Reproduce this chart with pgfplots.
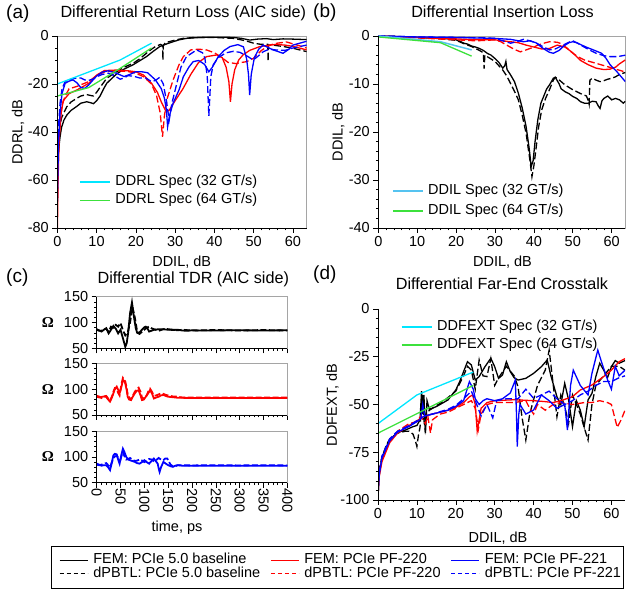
\documentclass[border=0pt]{standalone}
\usepackage{fontspec}
\setmainfont{Liberation Sans}
\newfontfamily\serifbf{Liberation Serif}
\usepackage{graphicx}
\usepackage{pgfplots}
\pgfplotsset{compat=1.18}
\definecolor{cspec}{RGB}{0,230,255}
\definecolor{gspec}{RGB}{60,225,60}
\definecolor{cspecb}{RGB}{85,195,240}
\definecolor{myred}{RGB}{255,0,0}
\definecolor{myblue}{RGB}{0,0,255}
\definecolor{frame}{RGB}{165,165,165}
\newcommand{\tf}{\fontsize{14.5}{16}\selectfont}
\newcommand{\ttl}{\fontsize{16.2}{18}\selectfont}
\newcommand{\pl}{\fontsize{19}{21}\selectfont}
\pgfplotsset{
  common/.style={
    scale only axis, anchor=south west,
    /pgf/number format/assume math mode=true,
    tick label style={font=\tf},
    tick align=outside,
    xtick pos=bottom, ytick pos=left,
    major tick length=5pt, minor tick length=2.5pt,
    every tick/.style={black, line width=0.6pt},
    axis line style={frame, line width=0.9pt},
    after end axis/.code={\draw[black,line width=0.9pt] (rel axis cs:0,1) -- (rel axis cs:0,0) -- (rel axis cs:1,0);},
    legend cell align=left,
    legend style={draw=none, fill=none, inner sep=0pt, font=\tf,
      nodes={inner sep=1pt, text height=11pt, text depth=3.5pt}},
    legend image code/.code={\draw[##1] (0pt,0pt) -- (30pt,0pt);},
  },
  fem/.style={line width=1.3pt, solid},
  pbtl/.style={line width=1.3pt, dash pattern=on 7pt off 3pt},
  tdrf/.style={line width=1.8pt, solid},
  tdrp/.style={line width=1.8pt, dash pattern=on 6pt off 2.5pt},
  tdr/.style={common, width=190.6pt, height=51.5pt, xmin=0, xmax=400, ymin=50, ymax=150,
    xtick={0,50,...,400}, ytick={50,100,150}, minor x tick num=4, minor y tick num=4,
    xticklabels={},
    ylabel={\serifbf\bfseries\fontsize{15}{17}\selectfont Ω},
    ylabel style={at={(axis description cs:-0.256,0.5)}, anchor=center, rotate=-90},
  },
}
\begin{document}
\begin{tikzpicture}
\path[use as bounding box] (0pt,0pt) rectangle (626pt,591pt);

% ---------------- (a) ----------------
\begin{axis}[common, at={(57.3pt,363pt)}, width=249.3pt, height=192pt,
  xmin=0, xmax=63.5, ymin=-80, ymax=0,
  xtick={0,10,...,60}, ytick={-80,-60,...,0}, minor x tick num=4, minor y tick num=3,
  legend style={at={(axis description cs:0.087,0.284)}, anchor=north west, row sep=1.8pt, column sep=4pt}]
\addplot[fem, black, forget plot] coordinates {(0,-56) (0.3,-48) (0.7,-42) (1.1,-38) (1.7,-35) (2.4,-33) (3.5,-31) (4.9,-29.4) (6,-28) (7.5,-27.4) (8.5,-27.8) (9.2,-28.2) (10,-27) (10.9,-25) (11.8,-22) (12.6,-19.7) (14,-17.5) (15.1,-15.8) (17,-13.8) (19.3,-12) (21,-10.3) (22.7,-8.6) (24.5,-6.3) (26.1,-4.4) (28,-3.2) (29.5,-2.4) (31,-1.6) (32.9,-1) (36.3,-0.6) (40,-0.5) (44.8,-0.6) (47,-1) (49,-1.7) (51,-1.3) (53.3,-1.1) (55,-1.5) (57.5,-1.2) (60,-1.3) (63.5,-1.5)};
\addplot[pbtl, black, forget plot] coordinates {(0,-48) (0.4,-40) (1.1,-34) (2.4,-29.5) (3.5,-27.5) (4.9,-26) (6,-25) (7.5,-24.4) (8.5,-24.8) (9.2,-25) (10,-23.5) (10.9,-21.4) (12.6,-17.6) (15.1,-14.9) (17,-13) (19.3,-11.4) (21,-9.5) (22.7,-7.2) (24,-5.5) (25,-4.4) (26.3,-3.5) (26.8,-4) (26.9,-10) (27.0,-4) (27.5,-2.8) (30,-1.7) (32,-1) (35,-0.6) (40,-0.6) (45,-1) (48,-2) (50,-3) (52,-3.5) (53.6,-3.5) (53.7,-10.6) (53.8,-3.8) (55,-3.8) (58,-4.5) (60,-5.1) (63.5,-6.5)};
\addplot[fem, myred, forget plot] coordinates {(0,-85) (0.2,-60) (0.5,-42) (1,-32) (1.5,-27) (3,-24) (5,-22.5) (8,-19.7) (10,-16.3) (12,-14.4) (15,-14.2) (18,-14.5) (20,-14.9) (22,-16.3) (24,-19.7) (25.5,-23.5) (26.5,-27.5) (27.7,-31.5) (28.5,-31) (30,-27) (32,-22) (34,-16) (36,-11) (38,-8.6) (40.6,-7.9) (42,-9) (43,-13) (43.7,-19) (44.1,-27.4) (44.5,-20) (45.2,-14) (46.2,-10) (47.3,-7.9) (49,-6) (51.6,-4.4) (55.6,-3.5) (58,-3.8) (60,-4.3) (63.5,-5.8)};
\addplot[pbtl, myred, forget plot] coordinates {(0,-70) (0.3,-48) (0.7,-36) (1.2,-29) (2,-25) (3,-22) (5,-21) (8,-19) (10,-16.5) (12,-15) (15,-14.5) (18,-14.8) (20,-15.5) (22,-17) (24,-20) (25.3,-25) (26.2,-32) (26.8,-42) (27.3,-33) (28,-26) (29.5,-18.3) (31,-12) (32.1,-8.6) (34,-5.8) (36,-5.5) (38,-5.8) (40,-7) (41.5,-8.5) (43.5,-11) (45.5,-11.5) (47,-11) (48.2,-10.7) (50,-9.3) (52,-6) (54.1,-3.8) (56,-3) (58.4,-2.5) (60.5,-3.5) (63.5,-5)};
\addplot[fem, myblue, forget plot] coordinates {(0,-70) (0.3,-45) (0.7,-32) (1.2,-24) (2,-19.7) (3,-18.8) (4,-18.3) (5,-19.5) (6,-21.5) (7,-21.8) (8,-20.4) (9,-18.5) (10,-16.7) (11.5,-15) (13,-14.5) (15,-15.5) (17,-16.9) (18.5,-16) (20,-14.9) (21.5,-14.9) (23,-15.3) (25,-18.3) (26.5,-22) (27.3,-26) (27.8,-31) (28.1,-37.8) (28.6,-33) (29.5,-28) (31,-22.5) (32.1,-17) (33.5,-13) (34.6,-10.7) (36,-10.2) (37.5,-11.8) (38.6,-14.9) (39.5,-13) (41,-8.6) (42.5,-6) (44,-4.4) (46,-3.6) (47.4,-4.5) (48.2,-9.3) (48.7,-16) (49,-24.6) (49.4,-16) (50.2,-9) (51.3,-5.5) (52.4,-3.8) (55,-5.8) (57.5,-7.2) (59,-5.5) (60,-3.8) (63.5,-2.2)};
\addplot[pbtl, myblue, forget plot] coordinates {(0,-50) (0.3,-38) (0.7,-28) (1.2,-22) (2,-19) (3.5,-18) (5,-17.5) (6,-17.5) (7,-18.3) (8,-18.5) (9,-18) (10,-17) (11.5,-16) (13,-15.5) (14.5,-16.5) (16,-18) (17,-17.5) (18,-16.5) (19.5,-16.8) (21,-17.5) (22.5,-17.5) (24,-19) (25,-18.5) (26.1,-17.2) (27,-20) (27.8,-27) (28.5,-35) (29.2,-28) (30.4,-20) (31.5,-13) (32.9,-8.6) (35.5,-5.8) (37,-7) (37.6,-9.3) (38.2,-17) (38.6,-33.3) (39.1,-17) (39.7,-12) (41,-9) (43,-7) (44.8,-6.4) (46.5,-6.8) (48.5,-8.5) (49.9,-10) (51,-8.6) (52.5,-6.5) (54,-5.5) (55.6,-5.8) (58,-6) (60,-5) (63.5,-3.8)};
\addplot[cspec, line width=1.3pt] coordinates {(0,-20) (16,-10) (24,-3)};
\addlegendentry{DDRL Spec (32 GT/s)}
\addplot[gspec, line width=1.3pt] coordinates {(0,-25) (8,-21.5) (16,-13.5) (24,-5)};
\addlegendentry{DDRL Spec (64 GT/s)}
\end{axis}

% ---------------- (b) ----------------
\begin{axis}[common, at={(378.3pt,363pt)}, width=247pt, height=192pt,
  xmin=0, xmax=63.5, ymin=-40, ymax=0,
  xtick={0,10,...,60}, ytick={-40,-30,...,0}, minor x tick num=4, minor y tick num=4,
  legend style={at={(axis description cs:0.057,0.236)}, anchor=north west, row sep=3.5pt, column sep=3pt}]
\addplot[fem, black, forget plot] coordinates {(0,0) (5,-0.1) (10,-0.3) (15,-0.5) (18,-0.6) (20,-0.8) (21,-1.1) (22,-1.5) (23,-1.7) (24,-2.1) (25,-2.3) (26,-2.6) (27,-3) (28,-3.6) (29,-4) (30,-4.7) (31,-5.5) (32,-6.7) (32.5,-6.2) (32.8,-5.3) (33.1,-7) (34,-8.1) (35,-9.5) (36,-11.9) (37,-15) (38,-18.9) (38.8,-23.5) (39.3,-27.2) (39.8,-26) (40.3,-22) (41,-17.5) (41.8,-14) (42.5,-12.6) (43.3,-11) (44,-10.2) (45,-8.8) (45.5,-8.6) (46.5,-10) (47,-11) (48,-11.6) (49,-12) (50,-12.6) (51,-13) (52,-13.7) (53,-14) (54,-14) (55,-13.6) (56,-13.7) (56.5,-14.5) (57,-15.1) (57.5,-13.5) (58,-13) (59,-12.5) (60,-13.3) (61,-13) (62,-13.3) (63,-14) (63.5,-13.6)};
\addplot[pbtl, black, forget plot] coordinates {(0,0) (10,-0.3) (15,-0.5) (20,-0.9) (22,-1.6) (24,-2.2) (25,-2.6) (26,-3) (27,-3.5) (27.2,-6.8) (27.4,-4) (28,-4.3) (30,-5.3) (32,-7.1) (33,-8.3) (34,-9.9) (35,-11.5) (36,-13.3) (37,-16.5) (38,-20.3) (39,-26) (39.5,-29.3) (40,-27) (40.5,-23.8) (41.2,-19) (42,-15.4) (43,-13) (44,-11.2) (45,-9.2) (45.5,-8.6) (46,-8.8) (47,-9.5) (48,-10.2) (50,-11.2) (52,-12) (53.5,-12.5) (54,-13.5) (54.2,-14.2) (54.4,-9.2) (55,-8.8) (56,-9.2) (57,-9.5) (58,-9.3) (59,-9) (60,-8.8) (61,-8.5) (62,-8) (63.5,-7.6)};
\addplot[fem, myred, forget plot] coordinates {(0,0) (10,-0.3) (20,-0.6) (25,-0.8) (30,-0.8) (33,-1.1) (36,-1.4) (38,-1.9) (40,-2.3) (42,-2.7) (44,-2.6) (46,-1.9) (48,-2.3) (50,-3.5) (52,-5.1) (54,-6) (56,-6.7) (58,-7) (59.6,-6.9) (61,-6.5) (62,-5.8) (63.5,-5)};
\addplot[pbtl, myred, forget plot] coordinates {(0,0) (10,-0.4) (20,-0.8) (25,-1) (28,-0.9) (30,-0.8) (31.5,-1.2) (33,-1.9) (35,-2.8) (36.5,-3.3) (38,-2.9) (40,-2.3) (41,-1.9) (43,-1.4) (44,-1.2) (46,-1.3) (47,-1.6) (48.5,-2.5) (50,-3.6) (51.5,-4.4) (53,-5) (56,-5.7) (59,-6.4) (61,-6.9) (63.5,-7.5)};
\addplot[fem, myblue, forget plot] coordinates {(0,0) (10,-0.2) (20,-0.3) (25,-0.4) (30,-0.5) (34,-0.7) (36,-1) (37.3,-1.2) (39,-1) (40.5,-1.4) (42.4,-2.6) (44,-3.4) (45,-3.6) (46.5,-3) (47.5,-2.2) (49,-1.4) (50,-1.2) (51,-1.4) (52.3,-1.9) (54,-2.5) (55.3,-2.9) (57.4,-3.6) (58.5,-4.6) (59.6,-6) (61.3,-7.4) (63.5,-9.5)};
\addplot[pbtl, myblue, forget plot] coordinates {(0,0) (10,-0.2) (20,-0.3) (28,-0.4) (30,-0.5) (32,-1) (34,-1.5) (35.5,-1.2) (37.3,-0.7) (39,-1) (40.7,-1.5) (42.5,-2.3) (44,-2.9) (45.5,-2.7) (47.5,-1.9) (49,-1.3) (50,-1) (51,-1.4) (52.7,-2.2) (54.5,-3) (56,-3.6) (58,-4.1) (59.6,-4.3) (61.5,-4.3) (63.5,-4)};
\addplot[cspecb, line width=1.5pt] coordinates {(0,0) (16,-1.2) (24,-2.9)};
\addlegendentry{DDIL Spec (32 GT/s)}
\addplot[gspec, line width=1.3pt] coordinates {(0,-0.2) (16,-1.4) (24,-4.2)};
\addlegendentry{DDIL Spec (64 GT/s)}
\end{axis}

% ---------------- (c) ----------------
\begin{axis}[tdr, at={(96.7pt,242.7pt)}]
\addplot[tdrf, black] coordinates {(0,87) (5,85) (10,82.5) (15,86) (20,89) (25,79) (30,86) (35,93.5) (40,88) (45,79) (50,86) (55,69.5) (60,53) (63,60) (66,80) (70,118) (74,139) (78,112) (82,89) (85,80) (88,79) (92,83) (95,86) (100,91) (103,92) (107,88) (110,82.5) (115,84) (120,86) (130,87) (140,87) (150,86) (160,85.7) (170,86) (180,84.5) (190,84) (200,85) (220,84.5) (250,84.5) (280,85) (300,85) (350,84.5) (400,85)};
\addplot[tdrp, black] coordinates {(0,86) (5,84) (10,84) (15,87) (20,88) (25,82) (30,92) (35,90) (40,95.5) (45,92) (50,99) (55,85) (60,75) (65,80) (70,100) (75,130) (80,110) (85,82) (90,78) (95,82) (100,86) (105,90) (110,92) (115,89) (120,87) (130,84) (140,87) (145,88) (150,87) (160,86) (170,85) (180,86) (200,84.5) (250,85.5) (300,84.5) (350,85.5) (400,84.5)};
\end{axis}
\begin{axis}[tdr, at={(96.7pt,176pt)}]
\addplot[tdrf, myred] coordinates {(0,85.5) (5,84) (10,85) (15,86) (20,85) (24,80) (28,76) (32,84) (35,92) (38,100) (42,105) (45,99) (48,92) (52,105) (55,118) (58,116) (60,111) (63,98) (65,85.5) (68,80) (72,79) (76,86) (80,92) (84,97) (88,98) (92,88) (95,79) (99,80) (103,85.5) (108,92) (112,98) (116,92) (120,82) (125,84) (130,85.5) (135,88) (140,89) (145,87) (150,85.5) (160,84.5) (170,83.5) (200,83) (250,83) (300,83) (350,83) (400,83)};
\addplot[tdrp, myred] coordinates {(0,87) (5,86) (10,83) (15,86) (20,87) (24,82) (28,78) (32,86) (35,95) (38,102) (42,100) (45,93) (48,88) (52,110) (55,122) (58,118) (60,115) (63,102) (65,90) (68,84) (72,80) (76,88) (80,95) (84,100) (88,103) (92,95) (95,84) (99,82) (103,84) (108,95) (112,101) (116,95) (120,88) (125,88) (130,90) (135,92) (140,91) (145,89) (150,88) (160,86) (165,86) (180,84) (200,84) (250,84) (300,84) (350,84) (400,84)};
\end{axis}
\begin{axis}[tdr, at={(96.7pt,108.3pt)},
  extra description/.code={
    \foreach \v in {0,50,100,150,200,250,300,350,400} {
      \node[rotate=-90, anchor=west, inner sep=0pt, font=\tf] at (axis cs:\v,50) [xshift=0pt] {};
    }
  }]
\addplot[tdrf, myblue] coordinates {(0,87) (5,85) (10,83) (15,84) (20,84) (24,80) (28,74.4) (32,90) (35,103) (38,106) (42,105) (45,95) (48,87) (52,105) (55,116) (58,110) (62,100) (66,95) (70,93.6) (75,92) (80,90.4) (85,88) (90,87) (95,90) (100,93.6) (105,90) (110,87) (115,92) (120,96.8) (124,92) (128,87) (130,78) (132,71) (135,80) (140,90.4) (145,87) (150,84) (155,82) (160,80.8) (165,83) (170,84) (180,83) (200,83) (250,83) (300,83) (350,83) (400,83)};
\addplot[tdrp, myblue] coordinates {(0,85) (5,84) (10,85) (15,87) (20,88) (24,84) (28,80) (32,90) (35,98) (38,101) (42,102) (46,98) (50,95) (53,105) (55,110) (58,102) (62,95) (66,96) (70,98) (75,95) (80,92) (85,93) (90,95) (95,93) (100,90) (105,93) (110,96) (115,95) (120,92) (125,94) (130,98) (135,95) (140,94) (144,97) (148,97) (152,90) (155,85) (160,82) (165,82) (170,84) (180,84) (200,83.5) (250,84) (300,83.5) (350,84) (400,83.5)};
\end{axis}
% rotated tick labels of the lowest TDR axis (text only)
\foreach \v/\xx in {0/96.7,50/120.5,100/144.35,150/168.2,200/192.0,250/215.85,300/239.7,350/263.5,400/287.3} {
  \node[rotate=-90, anchor=west, inner sep=0pt, font=\tf] at (\xx pt,102.5pt) {\v};
}

% ---------------- (d) ----------------
\begin{axis}[common, at={(378pt,91pt)}, width=247pt, height=191pt,
  axis line style={draw=none},
  xmin=0, xmax=63.5, ymin=-100, ymax=0,
  xtick={0,10,...,60}, ytick={-100,-75,...,0}, minor x tick num=4, minor y tick num=4,
  legend style={at={(axis description cs:0.092,0.95)}, anchor=north west, row sep=1.5pt, column sep=4pt}]
\addplot[fem, black, forget plot] coordinates {(0,-100) (0.15,-92) (0.4,-85) (1,-79) (2,-73) (3,-68.6) (4,-66.5) (5,-65) (6,-64) (7,-63.4) (8,-62.5) (9,-61.6) (10,-61) (10.8,-58) (11.2,-43) (11.5,-55) (11.8,-45) (12.2,-65) (12.6,-48) (13.2,-52.5) (15,-51.1) (18,-47.6) (20,-42.4) (21,-38) (22,-32.8) (23,-27.6) (24,-29.3) (25,-37.2) (26,-35.4) (27.5,-30.2) (29,-25.8) (30,-30.2) (31,-36.3) (32,-34.6) (33,-27.6) (34,-32.8) (35,-36) (36,-37.2) (38,-36.3) (40,-33.7) (42,-30.2) (43.5,-26.7) (44.5,-35.4) (46,-45.9) (47,-50) (48,-38.9) (49,-47.6) (50,-61.6) (51,-48) (52,-52.9) (53,-61.6) (54,-47.6) (55,-44.2) (56,-35.4) (57,-28.4) (58,-31.9) (59,-36) (60,-30.2) (61,-27) (62,-28.4) (63.5,-27)};
\addplot[pbtl, black, forget plot] coordinates {(0,-96) (0.2,-88) (0.5,-82) (1,-78) (2,-72) (3,-68) (5,-65) (7,-64) (8,-64) (9,-65.5) (9.6,-69) (10,-72) (10.4,-66) (10.8,-62) (11.4,-45) (11.8,-58) (12.1,-63) (12.5,-55) (13.2,-53) (14,-52) (17,-48) (20,-43) (22,-35) (23,-30) (24,-32) (25,-42) (26,-26.7) (27,-35) (28,-35.4) (29,-26) (30,-40) (31,-36) (33,-30) (35,-35) (36,-40.7) (37,-56.4) (38,-68.6) (39,-55) (41,-40) (43,-32) (44,-21.5) (45,-38.9) (46,-56.4) (47,-45) (48,-51) (49,-60) (50,-45) (52,-55) (53,-62) (54,-68.6) (55,-50) (56,-40) (58,-35) (60,-30) (62,-30) (63.5,-32)};
\addplot[fem, myred, forget plot] coordinates {(0,-98) (0.3,-88) (1,-80) (3,-70) (5,-65) (8,-61) (10,-58.5) (12,-56) (14,-55) (16,-54) (18,-53) (20,-51.5) (22,-49) (23.5,-46) (24.3,-45) (25,-50) (25.5,-64) (26,-58) (26.5,-52) (28,-49) (30,-48) (35,-47.5) (40,-48) (43,-48.5) (45,-49) (47,-48) (50,-45.9) (52,-42.4) (55,-39.8) (58,-35.4) (60,-32) (62,-27.6) (63.5,-26)};
\addplot[pbtl, myred, forget plot] coordinates {(0,-95) (0.3,-86) (1,-78) (3,-69) (5,-64) (8,-60) (10,-59) (11,-56) (11.5,-58) (12.2,-60) (12.8,-56) (13.5,-65) (14,-58) (16,-55) (18,-54) (20,-52) (22,-50) (24,-48) (25,-52) (25.8,-63) (26.5,-55) (28,-50) (30,-49) (35,-49) (38,-48) (39,-52) (40,-55) (41,-50) (43,-53) (45,-50) (47,-49) (50,-50) (53,-49) (55,-49) (57,-48) (59,-49) (60,-50) (61.5,-62) (62.5,-58) (63.5,-53)};
\addplot[fem, myblue, forget plot] coordinates {(0,-98) (0.3,-87) (1,-78) (3,-69) (5,-64.5) (8,-61.5) (10,-59) (11,-57.5) (11.5,-50) (12,-56) (14,-55) (18,-53) (20,-51) (22,-48) (23.5,-38) (24.5,-42) (25,-47) (26,-50) (27,-48) (28,-47) (30,-48) (32,-47) (34,-44) (35.3,-37.2) (35.6,-55) (35.8,-72) (36.2,-55) (36.5,-50) (38,-55) (40,-52.9) (42,-45) (44,-48) (46,-52) (48,-50) (48.7,-63.4) (49.5,-40) (50.2,-32) (52,-40) (54,-45) (55,-33.7) (56.5,-21.5) (57.5,-28) (59,-37) (60,-42) (61,-30) (62,-35) (63.5,-32)};
\addplot[pbtl, myblue, forget plot] coordinates {(0,-95) (0.3,-86) (1,-77) (3,-68) (5,-64) (8,-61) (10,-58.5) (12,-56) (14,-55) (18,-52.5) (20,-50.5) (22,-47) (24,-43) (25,-48) (26.5,-56) (28,-50) (29.5,-57) (30.5,-48) (33,-47) (36,-47) (38,-42) (40,-46.8) (42,-45) (44,-43) (46,-47) (48,-50) (50,-48) (52,-45) (54,-43) (56,-40) (58,-38) (60,-38) (62,-36) (63.5,-35)};
\addplot[cspec, line width=1.3pt] coordinates {(0,-60) (10,-45) (24.5,-33)};
\addlegendentry{DDFEXT Spec (32 GT/s)}
\addplot[gspec, line width=1.3pt] coordinates {(0,-65) (24.5,-40)};
\addlegendentry{DDFEXT Spec (64 GT/s)}
\end{axis}

% ---------------- bottom legend ----------------
\begin{axis}[scale only axis, anchor=south west, at={(51.7pt,3pt)}, width=572pt, height=42pt,
  xmin=0, xmax=1, ymin=0, ymax=1, xtick=\empty, ytick=\empty,
  axis line style={black, line width=0.8pt},
  legend columns=3, legend cell align=left,
  legend image code/.code={\draw[#1] (0pt,0pt) -- (28pt,0pt);},
  legend style={at={(axis description cs:0.505,0.5)}, anchor=center, draw=none, fill=none,
    font=\tf, inner sep=0pt, row sep=-2pt, column sep=4pt,
    nodes={inner sep=1pt, text height=10.5pt, text depth=3pt},
    /tikz/every even column/.append style={column sep=9pt}}]
\addlegendimage{black, line width=1.2pt}
\addlegendentry{FEM: PCIe 5.0 baseline}
\addlegendimage{myred, line width=1.2pt}
\addlegendentry{FEM: PCIe PF-220}
\addlegendimage{myblue, line width=1.2pt}
\addlegendentry{FEM: PCIe PF-221}
\addlegendimage{black, line width=1.2pt, dash pattern=on 4pt off 3pt}
\addlegendentry{dPBTL: PCIe 5.0 baseline}
\addlegendimage{myred, line width=1.2pt, dash pattern=on 4pt off 3pt}
\addlegendentry{dPBTL: PCIe PF-220}
\addlegendimage{myblue, line width=1.2pt, dash pattern=on 4pt off 3pt}
\addlegendentry{dPBTL: PCIe PF-221}
\end{axis}

% ---------------- texts ----------------
\node[anchor=base west, inner sep=0pt, font=\pl] at (6pt,572.5pt) {(a)};
\node[anchor=base, inner sep=0pt, font=\ttl] at (183.3pt,573.5pt) {Differential Return Loss (AIC side)};
\node[anchor=base west, inner sep=0pt, font=\pl] at (313pt,573pt) {(b)};
\node[anchor=base, inner sep=0pt, font=\ttl] at (502.5pt,573.5pt) {Differential Insertion Loss};
\node[anchor=base, inner sep=0pt, font=\tf] at (181.7pt,324.5pt) {DDIL, dB};
\node[anchor=base, inner sep=0pt, font=\tf] at (502.5pt,324.5pt) {DDIL, dB};
\node[rotate=90, inner sep=0pt, font=\tf] at (18pt,459pt) {DDRL, dB};
\node[rotate=90, inner sep=0pt, font=\tf] at (338.3pt,459pt) {DDIL, dB};
\node[anchor=base west, inner sep=0pt, font=\pl] at (6pt,308pt) {(c)};
\node[anchor=base, inner sep=0pt, font=\ttl] at (193.3pt,307.7pt) {Differential TDR (AIC side)};
\node[anchor=base west, inner sep=0pt, font=\pl] at (313pt,311pt) {(d)};
\node[anchor=base, inner sep=0pt, font=\ttl] at (502pt,301pt) {Differential Far-End Crosstalk};
\node[rotate=90, inner sep=0pt, font=\tf] at (332.5pt,186pt) {DDFEXT, dB};
\node[anchor=base, inner sep=0pt, font=\tf] at (177pt,59pt) {time, ps};
\node[anchor=base, inner sep=0pt, font=\tf] at (498pt,48pt) {DDIL, dB};
\end{tikzpicture}
\end{document}
